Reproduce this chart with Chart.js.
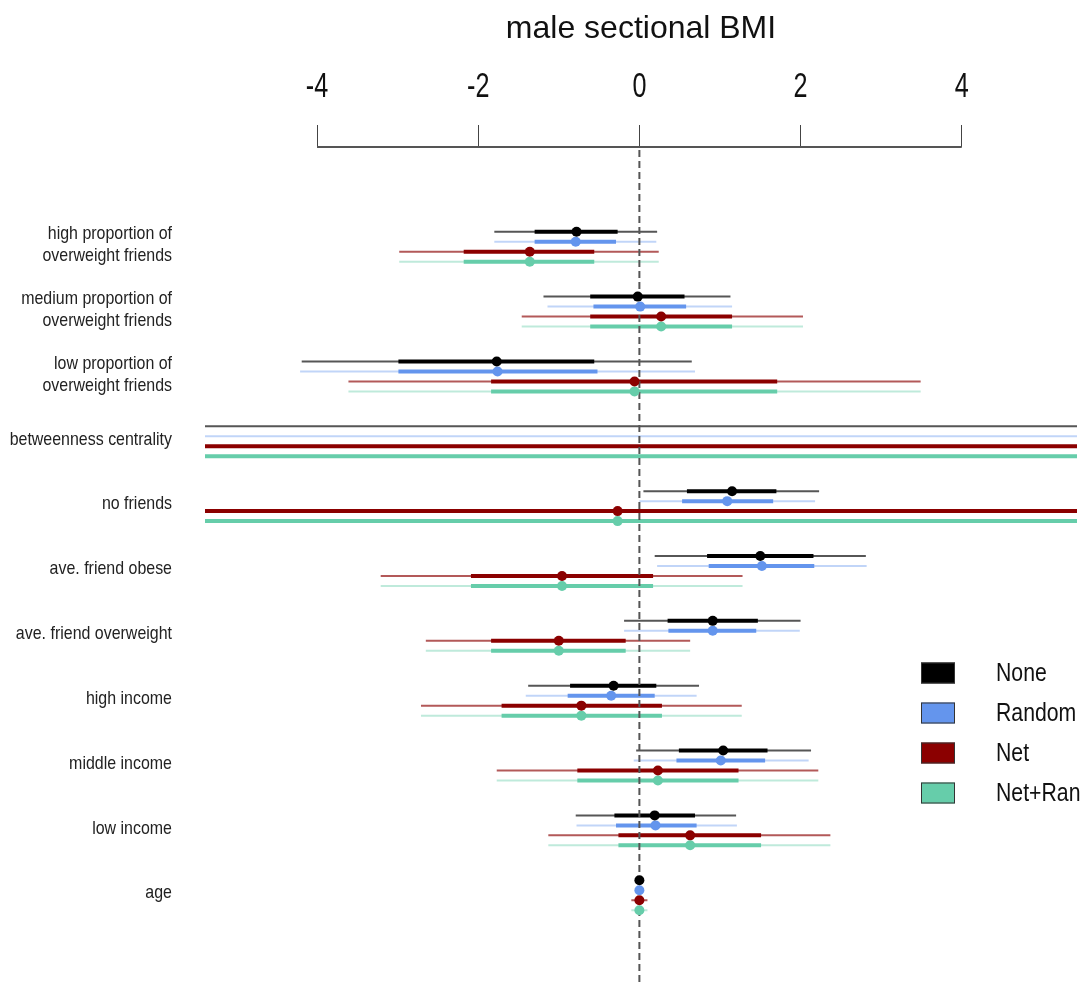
<!DOCTYPE html>
<html>
<head>
<meta charset="utf-8">
<script src="https://cdn.jsdelivr.net/npm/chart.js@4.4.1/dist/chart.umd.min.js"></script>
<style>
  html, body { margin: 0; padding: 0; background: #fff; }
</style>
</head>
<body>
<canvas id="forest" width="1084" height="991"></canvas>
<script>
// categories, top to bottom
const categories = [
  ['high proportion of', 'overweight friends'],
  ['medium proportion of', 'overweight friends'],
  ['low proportion of', 'overweight friends'],
  'betweenness centrality',
  'no friends',
  'ave. friend obese',
  'ave. friend overweight',
  'high income',
  'middle income',
  'low income',
  'age'
];
const seriesNames = ['None', 'Random', 'Net', 'Net+Ran'];
const xTicks = [-4, -2, 0, 2, 4];
const chartTitle = 'male sectional BMI';

// estimate, thick interval, thin interval (betweenness runs off the scale)
const noneEst = [-0.78, -0.02, -1.77, 12.0, 1.15, 1.50, 0.91, -0.32, 1.04, 0.19, 0.00];
const noneInner = [[-1.30, -0.27], [-0.61, 0.56], [-2.99, -0.56], [6.5, 17.5], [0.59, 1.70], [0.84, 2.16],
  [0.35, 1.47], [-0.86, 0.21], [0.49, 1.59], [-0.31, 0.69], [-0.01, 0.01]];
const noneOuter = [[-1.80, 0.22], [-1.19, 1.13], [-4.19, 0.65], [-35, 60], [0.05, 2.23], [0.19, 2.81],
  [-0.19, 2.00], [-1.38, 0.74], [-0.04, 2.13], [-0.79, 1.20], [-0.02, 0.02]];

const randomEst = [-0.79, 0.01, -1.76, 12.5, 1.09, 1.52, 0.91, -0.35, 1.01, 0.20, 0.00];
const randomInner = [[-1.30, -0.29], [-0.57, 0.58], [-2.99, -0.52], [6.8, 18.0], [0.53, 1.66], [0.86, 2.17],
  [0.36, 1.45], [-0.89, 0.19], [0.46, 1.56], [-0.29, 0.71], [-0.01, 0.01]];
const randomOuter = [[-1.80, 0.21], [-1.14, 1.15], [-4.21, 0.69], [-36, 61], [0.00, 2.18], [0.22, 2.82],
  [-0.19, 1.99], [-1.41, 0.71], [-0.07, 2.10], [-0.78, 1.21], [-0.02, 0.02]];

const netEst = [-1.36, 0.27, -0.06, -8.0, -0.27, -0.96, -1.00, -0.72, 0.23, 0.63, 0.00];
const netInner = [[-2.18, -0.56], [-0.61, 1.15], [-1.84, 1.71], [-30, 14], [-12.0, 11.5], [-2.09, 0.17],
  [-1.84, -0.17], [-1.71, 0.28], [-0.77, 1.23], [-0.26, 1.51], [-0.05, 0.05]];
const netOuter = [[-2.98, 0.24], [-1.46, 2.03], [-3.61, 3.49], [-52, 36], [-23, 22.5], [-3.21, 1.28],
  [-2.65, 0.63], [-2.71, 1.27], [-1.77, 2.22], [-1.13, 2.37], [-0.10, 0.10]];

const netRanEst = [-1.36, 0.27, -0.06, -8.0, -0.27, -0.96, -1.00, -0.72, 0.23, 0.63, 0.00];
const netRanInner = [[-2.18, -0.56], [-0.61, 1.15], [-1.84, 1.71], [-30, 14], [-12.0, 11.5], [-2.09, 0.17],
  [-1.84, -0.17], [-1.71, 0.28], [-0.77, 1.23], [-0.26, 1.51], [-0.05, 0.05]];
const netRanOuter = [[-2.98, 0.24], [-1.46, 2.03], [-3.61, 3.49], [-52, 36], [-23, 22.5], [-3.21, 1.28],
  [-2.65, 0.63], [-2.71, 1.27], [-1.77, 2.22], [-1.13, 2.37], [-0.10, 0.10]];

const estimates = [noneEst, randomEst, netEst, netRanEst];
const inners = [noneInner, randomInner, netInner, netRanInner];
const outers = [noneOuter, randomOuter, netOuter, netRanOuter];

const mainColors = ['#000000', '#6495ED', '#8B0000', '#66CDAA'];
const outerColors = ['rgba(30,30,30,0.75)', 'rgba(100,149,237,0.4)', 'rgba(139,0,0,0.65)', 'rgba(102,205,170,0.42)'];

const sans = '"Liberation Sans", Arial, sans-serif';
const rowGap = 10 / 65; // vertical gap between series inside a category

function rowY(i, j) {
  return i + (j - 1.5) * rowGap;
}

// interval pairs -> line points with a gap after each segment
function segments(pairs, j) {
  const pts = [];
  pairs.forEach((p, i) => {
    const y = rowY(i, j);
    pts.push({ x: p[0], y: y }, { x: p[1], y: y }, { x: null, y: null });
  });
  return pts;
}

// condensed text: no narrow face installed, so squeeze horizontally
function narrowText(ctx, text, x, y, sx) {
  ctx.save();
  ctx.translate(x, y);
  ctx.scale(sx, 1);
  ctx.fillText(text, 0, 0);
  ctx.restore();
}

const pointSets = seriesNames.map((name, j) => ({
  type: 'scatter',
  label: name,
  data: estimates[j].map((v, i) => ({ x: v, y: rowY(i, j) })),
  pointRadius: 5,
  pointBackgroundColor: mainColors[j],
  pointBorderWidth: 0
}));
const innerSets = seriesNames.map((name, j) => ({
  type: 'line',
  label: name + ' inner',
  data: segments(inners[j], j),
  borderColor: mainColors[j],
  borderWidth: 4,
  pointRadius: 0,
  spanGaps: false,
  borderCapStyle: 'butt'
}));
const outerSets = seriesNames.map((name, j) => ({
  type: 'line',
  label: name + ' outer',
  data: segments(outers[j], j),
  borderColor: outerColors[j],
  borderWidth: 2,
  pointRadius: 0,
  spanGaps: false,
  borderCapStyle: 'butt'
}));

// zero line, axis line, labels and legend
const forestExtras = {
  id: 'forestExtras',
  afterDatasetDraw(chart, args) {
    // last interval dataset drawn, the points go on top after this
    if (args.index !== seriesNames.length) return;
    const ctx = chart.ctx;
    const area = chart.chartArea;
    const x0 = chart.scales.x.getPixelForValue(0);
    ctx.save();
    ctx.strokeStyle = '#555';
    ctx.lineWidth = 2;
    ctx.setLineDash([7, 4]);
    ctx.beginPath();
    ctx.moveTo(x0, area.top + 3);
    ctx.lineTo(x0, area.bottom);
    ctx.stroke();
    ctx.restore();
  },
  afterDraw(chart) {
    const ctx = chart.ctx;
    const xs = chart.scales.x;
    const ys = chart.scales.y;
    const area = chart.chartArea;
    ctx.save();

    // title
    ctx.fillStyle = '#111';
    ctx.font = '32px ' + sans;
    ctx.textAlign = 'center';
    ctx.textBaseline = 'alphabetic';
    ctx.fillText(chartTitle, (area.left + area.right) / 2, 38);

    // top axis line and tick labels
    ctx.strokeStyle = '#555';
    ctx.lineWidth = 2;
    ctx.beginPath();
    ctx.moveTo(xs.getPixelForValue(xTicks[0]), area.top);
    ctx.lineTo(xs.getPixelForValue(xTicks[xTicks.length - 1]), area.top);
    ctx.stroke();
    ctx.font = '35px ' + sans;
    ctx.fillStyle = '#111';
    xTicks.forEach((v) => {
      narrowText(ctx, String(v).replace('-', '-'), xs.getPixelForValue(v), 97, 0.72);
    });

    // category labels
    ctx.font = '19px ' + sans;
    ctx.fillStyle = '#222';
    ctx.textAlign = 'right';
    ctx.textBaseline = 'middle';
    categories.forEach((label, i) => {
      const lines = Array.isArray(label) ? label : [label];
      const cy = ys.getPixelForValue(i) - 2;
      lines.forEach((line, k) => {
        narrowText(ctx, line, 172, cy + (k - (lines.length - 1) / 2) * 22, 0.84);
      });
    });

    // legend
    ctx.textAlign = 'left';
    ctx.font = '25px ' + sans;
    seriesNames.forEach((name, j) => {
      const cy = 673 + j * 40;
      ctx.fillStyle = mainColors[j];
      ctx.fillRect(921, cy - 10.5, 34, 21);
      ctx.strokeStyle = '#333';
      ctx.lineWidth = 1;
      ctx.strokeRect(921.5, cy - 10, 33, 20);
      ctx.fillStyle = '#111';
      narrowText(ctx, name, 996, cy + 1, 0.85);
    });
    ctx.restore();
  }
};

const chart = new Chart(document.getElementById('forest'), {
  data: {
    datasets: [...pointSets, ...innerSets, ...outerSets]
  },
  options: {
    responsive: false,
    animation: false,
    layout: { padding: { left: 0, right: 7, top: 0, bottom: 3 } },
    plugins: {
      legend: { display: false },
      tooltip: { enabled: false },
      title: { display: false }
    },
    scales: {
      x: {
        type: 'linear',
        position: 'top',
        min: -5.39,
        max: 5.43,
        afterBuildTicks: (s) => { s.ticks = xTicks.map((v) => ({ value: v })); },
        afterFit: (s) => { s.height = 147; },
        ticks: { display: false },
        grid: { drawOnChartArea: false, drawTicks: true, tickLength: 22, color: '#444', lineWidth: 1 },
        border: { display: false }
      },
      y: {
        type: 'linear',
        reverse: true,
        min: -1.538,
        max: 11.40,
        afterBuildTicks: (s) => { s.ticks = categories.map((c, i) => ({ value: i })); },
        afterFit: (s) => { s.width = 205; s.paddingTop = 0; s.paddingBottom = 0; },
        ticks: { display: false },
        grid: { display: false, drawTicks: false },
        border: { display: false }
      }
    }
  },
  plugins: [forestExtras]
});
</script>
</body>
</html>
